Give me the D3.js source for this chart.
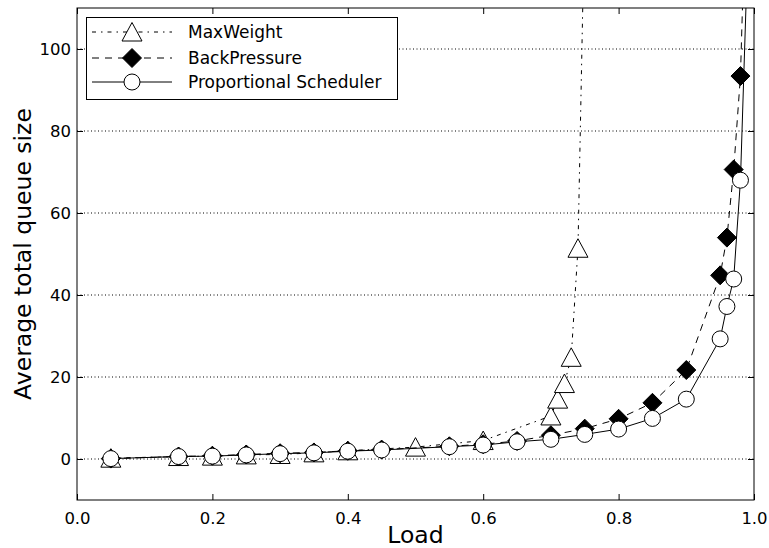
<!DOCTYPE html>
<html>
<head>
<meta charset="utf-8">
<script src="https://cdn.jsdelivr.net/npm/d3@7"></script>
<style>
  body { margin: 0; background: #fff; }
  svg { font-family: "DejaVu Sans", sans-serif; }
</style>
</head>
<body>
<div id="chart"></div>
<script>
// Data
const loadPS = [0.05, 0.15, 0.2, 0.25, 0.3, 0.35, 0.4, 0.45, 0.55, 0.6, 0.65, 0.7, 0.75, 0.8, 0.85, 0.9, 0.95, 0.96, 0.97, 0.98, 0.99];
const propSched = [0.1, 0.6, 0.7, 1.0, 1.3, 1.5, 1.9, 2.2, 3.0, 3.4, 4.2, 4.8, 6.0, 7.3, 9.9, 14.6, 29.3, 37.2, 43.9, 68.0, 120];
const backPressure = [0.1, 0.6, 0.8, 1.1, 1.4, 1.6, 2.0, 2.3, 3.1, 3.6, 4.4, 5.8, 7.4, 9.8, 13.7, 21.7, 44.8, 54.0, 70.6, 93.4, 150];
const loadMW = [0.05, 0.15, 0.2, 0.25, 0.3, 0.35, 0.4, 0.5, 0.6, 0.7, 0.71, 0.72, 0.73, 0.74, 0.75];
const maxWeight = [0.2, 0.6, 0.7, 1.0, 1.1, 1.5, 2.0, 2.9, 4.5, 10.5, 14.6, 18.4, 24.8, 51.4, 135];
const xTicks = [0, 0.2, 0.4, 0.6, 0.8, 1.0];
const yTicks = [0, 20, 40, 60, 80, 100];
const seriesNames = ["MaxWeight", "BackPressure", "Proportional Scheduler"];

const width = 769, height = 548;
const mLeft = 77, mRight = 754, mTop = 8, mBottom = 500;

const x = d3.scaleLinear().domain([0, 1]).range([mLeft, mRight]);
const y = d3.scaleLinear().domain([-10, 110]).range([mBottom, mTop]);

const svg = d3.select("#chart").append("svg")
    .attr("width", width)
    .attr("height", height);

svg.append("defs").append("clipPath").attr("id", "clip")
    .append("rect")
    .attr("x", mLeft).attr("y", mTop)
    .attr("width", mRight - mLeft).attr("height", mBottom - mTop);

// grid
svg.append("g").selectAll("line")
    .data(yTicks)
    .enter().append("line")
    .attr("x1", mLeft).attr("x2", mRight)
    .attr("y1", d => y(d)).attr("y2", d => y(d))
    .attr("stroke", "#000")
    .attr("stroke-width", 1)
    .attr("stroke-dasharray", "1,2.5");

// axes (ticks pointing inward)
const tickLen = 6;
svg.append("g")
    .attr("transform", `translate(0,${mBottom})`)
    .call(d3.axisBottom(x).tickValues(xTicks).tickFormat(d3.format(".1f")).tickSizeInner(-tickLen).tickSizeOuter(0).tickPadding(12))
    .call(g => g.select(".domain").remove())
    .call(g => g.selectAll("text").attr("font-size", 16.5).attr("font-family", "DejaVu Sans").attr("fill", "#000"));

svg.append("g")
    .attr("transform", `translate(0,${mTop})`)
    .call(d3.axisTop(x).tickValues(xTicks).tickFormat("").tickSizeInner(-tickLen).tickSizeOuter(0))
    .call(g => g.select(".domain").remove());

svg.append("g")
    .attr("transform", `translate(${mLeft},0)`)
    .call(d3.axisLeft(y).tickValues(yTicks).tickSizeInner(-tickLen).tickSizeOuter(0).tickPadding(6))
    .call(g => g.select(".domain").remove())
    .call(g => g.selectAll("text").attr("font-size", 16.5).attr("font-family", "DejaVu Sans").attr("fill", "#000"));

svg.append("g")
    .attr("transform", `translate(${mRight},0)`)
    .call(d3.axisRight(y).tickValues(yTicks).tickFormat("").tickSizeInner(-tickLen).tickSizeOuter(0))
    .call(g => g.select(".domain").remove());

// frame
svg.append("rect")
    .attr("x", mLeft).attr("y", mTop)
    .attr("width", mRight - mLeft).attr("height", mBottom - mTop)
    .attr("fill", "none")
    .attr("stroke", "#000")
    .attr("stroke-width", 1);

// labels
svg.append("text")
    .attr("x", (mLeft + mRight) / 2)
    .attr("y", 543)
    .attr("text-anchor", "middle")
    .attr("font-size", 23.5)
    .text("Load");

svg.append("text")
    .attr("transform", `translate(31,${(mTop + mBottom) / 2}) rotate(-90)`)
    .attr("text-anchor", "middle")
    .attr("font-size", 23.5)
    .text("Average total queue size");

// marker shapes
const tri = d3.symbol().type({ draw(ctx) { ctx.moveTo(0, -9.5); ctx.lineTo(10, 9); ctx.lineTo(-10, 9); ctx.closePath(); } });
const dia = d3.symbol().type({ draw(ctx) { ctx.moveTo(0, -9.5); ctx.lineTo(9.5, 0); ctx.lineTo(0, 9.5); ctx.lineTo(-9.5, 0); ctx.closePath(); } });
const circ = d3.symbol().type({ draw(ctx) { ctx.moveTo(8, 0); ctx.arc(0, 0, 8, 0, 2 * Math.PI); } });

const series = [
    { name: seriesNames[0], xs: loadMW, ys: maxWeight, dash: "4,5,1.5,5", shape: tri, fill: "#fff" },
    { name: seriesNames[1], xs: loadPS, ys: backPressure, dash: "7,6", shape: dia, fill: "#000" },
    { name: seriesNames[2], xs: loadPS, ys: propSched, dash: null, shape: circ, fill: "#fff" }
];

const plot = svg.append("g").attr("clip-path", "url(#clip)");
const line = d3.line().x(d => x(d[0])).y(d => y(d[1]));

series.forEach(s => {
    const pts = s.xs.map((v, i) => [v, s.ys[i]]);
    plot.append("path")
        .datum(pts)
        .attr("d", line)
        .attr("fill", "none")
        .attr("stroke", "#000")
        .attr("stroke-width", 1)
        .attr("stroke-dasharray", s.dash);
    plot.append("g").selectAll("path")
        .data(pts)
        .enter().append("path")
        .attr("d", s.shape())
        .attr("transform", d => `translate(${x(d[0])},${y(d[1])})`)
        .attr("fill", s.fill)
        .attr("stroke", "#000")
        .attr("stroke-width", 1);
});

// legend
const lg = svg.append("g");
lg.append("rect")
    .attr("x", 86.5).attr("y", 17.5)
    .attr("width", 311).attr("height", 82)
    .attr("fill", "#fff")
    .attr("stroke", "#000")
    .attr("stroke-width", 1);

const rowY = [32, 58, 82];
series.forEach((s, i) => {
    lg.append("line")
        .attr("x1", 92).attr("x2", 172)
        .attr("y1", rowY[i]).attr("y2", rowY[i])
        .attr("stroke", "#000")
        .attr("stroke-width", 1)
        .attr("stroke-dasharray", s.dash);
    lg.append("path")
        .attr("d", s.shape())
        .attr("transform", `translate(132,${rowY[i]})`)
        .attr("fill", s.fill)
        .attr("stroke", "#000");
    lg.append("text")
        .attr("x", 188)
        .attr("y", rowY[i])
        .attr("dy", "0.35em")
        .attr("font-size", 17)
        .text(s.name);
});
</script>
</body>
</html>
